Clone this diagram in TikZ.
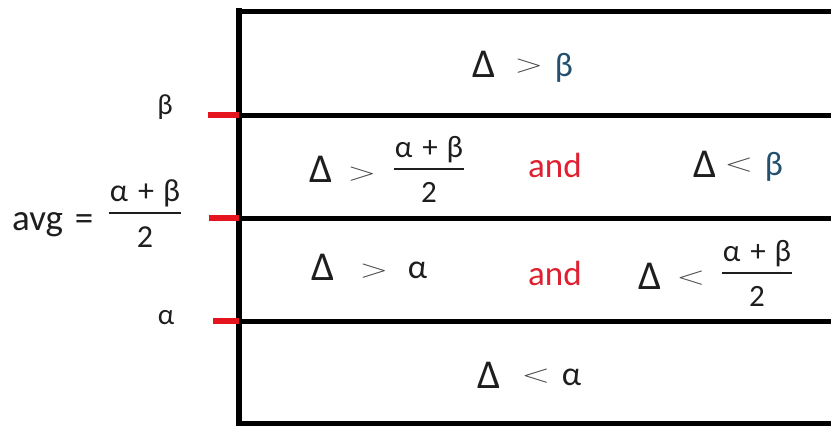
\documentclass[tikz,border=0pt]{standalone}
\usepackage{fontspec}
\setmainfont{Carlito}
\newfontfamily\lmfont{Latin Modern Roman}
\definecolor{andred}{RGB}{222,32,48}
\definecolor{tickred}{RGB}{230,20,30}
\definecolor{betablue}{RGB}{35,80,110}
\definecolor{ink}{RGB}{30,30,30}
\definecolor{relgray}{RGB}{70,70,70}
\newcommand{\abfr}{\vbox{\offinterlineskip\halign{\hfil##\hfil\cr
  \hspace{1pt}α\hspace{10pt}+\hspace{9pt}β\hspace{1pt}\cr
  \noalign{\kern5pt\hrule height 2pt\kern12pt}
  2\cr}}}
\newcommand{\gt}{\scalebox{1.25}[0.85]{\lmfont >}}
\newcommand{\lt}{\scalebox{1.25}[0.85]{\lmfont <}}
\begin{document}
\begin{tikzpicture}[x=1pt,y=-1pt, every node/.style={text=ink},
  dlt/.style={font=\fontsize{41}{48}\selectfont, inner sep=0pt, anchor=base},
  rel/.style={font=\fontsize{30}{36}\selectfont, text=relgray, inner sep=0pt, anchor=center},
  gr/.style={font=\fontsize{34}{40}\selectfont, inner sep=0pt, anchor=base},
  frc/.style={font=\fontsize{31}{36}\selectfont, inner sep=0pt, anchor=base},
  andtxt/.style={font=\fontsize{35}{40}\selectfont, text=andred, inner sep=0pt, anchor=base},
  lbl/.style={font=\fontsize{29}{34}\selectfont, inner sep=0pt, anchor=base},
  tick/.style={draw=tickred, line width=5.5pt},
  frame/.style={draw=black, line width=5pt, line join=miter},
  vframe/.style={draw=black, line width=6pt}]
\useasboundingbox (0,0) rectangle (831,426);
% frame corners and row levels
\coordinate (TR) at (836,11);
\coordinate (TL) at (239,11);
\coordinate (BL) at (239,423);
\coordinate (BR) at (836,423);
\coordinate (Lb) at (239,115);
\coordinate (Rb) at (836,115);
\coordinate (Lm) at (239,218);
\coordinate (Rm) at (836,218);
\coordinate (La) at (239,321);
\coordinate (Ra) at (836,321);
\coordinate (Tb) at (208,115);
\coordinate (Tm) at (209,218);
\coordinate (Ta) at (213,321);
\coordinate (VT) at (239,8);
\coordinate (VB) at (239,426);
\draw[frame] (TR) -- (TL);
\draw[frame] (BL) -- (BR);
\draw[vframe] (VT) -- (VB);
\draw[frame] (Lb) -- (Rb);
\draw[frame] (Lm) -- (Rm);
\draw[frame] (La) -- (Ra);
\draw[tick] (Tb) -- (Lb);
\draw[tick] (Tm) -- (Lm);
\draw[tick] (Ta) -- (La);
% row 1
\node[dlt] (r1d) at (484,77) {Δ};
\node[rel] (r1r) at (529,66.5) {\gt};
\node[gr, text=betablue] (r1g) at (564,76) {β};
% row 2
\node[dlt] (r2d) at (321,182) {Δ};
\node[rel] (r2r) at (362,174) {\gt};
\node[frc] (r2f) at (429,202) {\abfr};
\node[andtxt] (r2and) at (555,177) {and};
\node[dlt] (r2d2) at (705,177) {Δ};
\node[rel] (r2r2) at (739,165) {\lt};
\node[gr, text=betablue] (r2g) at (774,175) {β};
% row 3
\node[dlt] (r3d) at (323.5,280) {Δ};
\node[rel] (r3r) at (374,271.5) {\gt};
\node[gr] (r3g) at (417.5,278) {α};
\node[andtxt] (r3and) at (555,285) {and};
\node[dlt] (r3d2) at (650,289) {Δ};
\node[rel] (r3r2) at (691,278) {\lt};
\node[frc] (r3f) at (757,306) {\abfr};
% row 4
\node[dlt] (r4d) at (489,388) {Δ};
\node[rel] (r4r) at (536,376.5) {\lt};
\node[gr] (r4g) at (571.5,385) {α};
% left labels
\node[lbl] (lb) at (165,114) {β};
\node[lbl] (la) at (166,324) {α};
\node[anchor=base west, inner sep=0pt, font=\fontsize{37}{42}\selectfont] (lm) at (12,230) {avg};
\node[anchor=base, inner sep=0pt, font=\fontsize{37}{42}\selectfont] (leq) at (84,230) {=};
\node[frc, font=\fontsize{32}{38}\selectfont] (lmf) at (145,247) {\abfr};
\end{tikzpicture}
\end{document}
